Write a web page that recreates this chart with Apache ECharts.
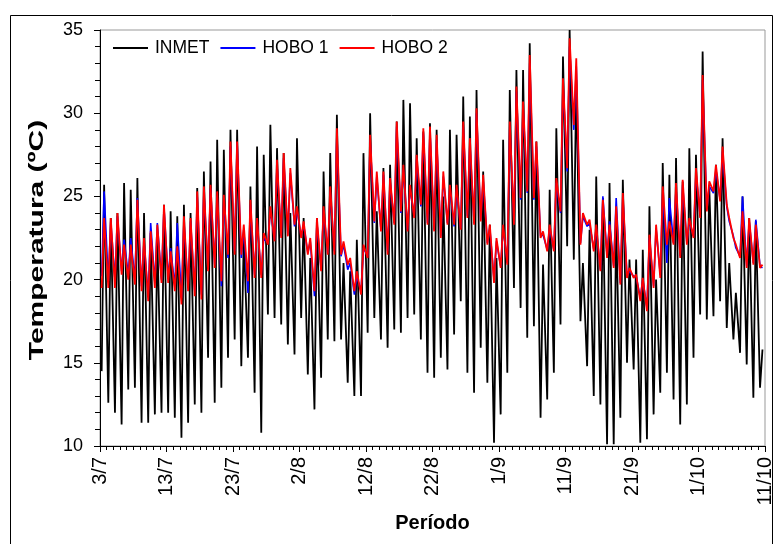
<!DOCTYPE html>
<html>
<head>
<meta charset="utf-8">
<script src="https://cdn.jsdelivr.net/npm/echarts@6/dist/echarts.min.js"></script>
<style>html,body{margin:0;padding:0;background:#fff}#c{width:775px;height:544px}</style>
</head>
<body>
<div id="c"></div>
<script>
// Tick labels (every 10 days from 3/7 to 11/10)
const tickLabels = ['3/7','13/7','23/7','2/8','12/8','22/8','1/9','11/9','21/9','1/10','11/10'];
// Day index 0 = 3/7. Daily minimum (morning) and maximum (afternoon), °C
const inmetMin = [14.5,12.6,12.0,11.3,13.4,13.5,11.4,11.4,11.9,12.0,
  12.0,11.7,10.5,11.4,12.5,12.0,15.3,12.6,13.5,15.3,
  16.4,14.8,15.3,13.2,10.8,17.9,17.7,17.3,16.1,15.5,
  17.7,14.3,12.2,14.1,16.4,16.3,16.4,13.8,13.0,13.0,
  16.8,17.7,16.4,15.9,17.0,16.8,17.7,17.9,16.4,14.4,
  14.1,15.3,14.6,16.7,18.7,14.4,13.2,15.9,13.8,10.2,
  11.9,14.4,19.5,18.3,16.5,17.2,11.7,12.8,14.4,17.3,
  22.0,21.2,17.5,14.8,13.0,12.5,10.1,10.1,11.7,15.0,
  14.6,10.2,10.4,11.9,13.2,14.4,12.8,11.3,12.5,15.3,
  17.9,17.6,17.8,18.7,17.1,16.4,15.6,14.9,12.9,13.5];
const inmetMax = [25.7,23.7,24.0,25.8,25.4,26.1,24.0,22.8,22.5,24.5,
  24.1,23.8,24.5,24.0,25.5,26.5,27.1,28.4,27.8,29.0,
  29.0,22.5,25.6,28.0,27.5,29.3,27.9,27.6,24.0,28.5,
  23.7,21.3,23.7,26.5,27.6,29.9,21.0,20.5,22.4,27.6,
  30.0,24.1,26.7,26.9,29.5,30.8,30.6,28.5,28.9,29.4,
  29.0,25.0,29.0,28.7,31.0,29.8,31.4,26.5,23.3,21.3,
  28.4,31.4,32.6,32.6,34.2,28.3,20.9,25.4,29.1,33.4,
  35.0,32.0,21.0,23.0,26.2,24.9,25.8,23.5,26.0,21.2,
  21.2,21.8,24.4,20.0,27.0,26.3,27.3,25.9,27.9,27.5,
  33.7,25.5,26.9,28.5,21.0,19.2,25.0,23.7,23.5,15.8];
const hobo1Min = [20.2,19.9,20.0,20.5,20.3,20.0,19.6,19.0,19.8,20.0,
  20.1,19.6,18.9,19.5,19.3,19.1,20.7,20.9,19.6,21.3,
  21.7,21.3,19.2,20.3,20.3,22.2,22.4,22.6,22.7,23.2,
  22.6,21.6,19.0,20.6,21.6,21.7,21.4,20.6,19.1,19.3,
  21.4,23.4,23.0,21.7,23.4,24.0,23.0,23.8,24.4,23.4,
  23.0,22.6,23.4,23.2,23.1,23.8,23.4,23.6,22.2,20.0,
  20.8,21.0,23.4,24.8,25.2,24.8,22.6,21.8,21.8,24.0,
  26.5,29.0,22.2,23.2,21.8,20.6,21.4,20.8,19.8,20.2,
  20.2,18.9,18.3,19.6,20.3,21.0,22.2,21.4,22.2,22.6,
  23.8,24.2,25.2,24.8,24.4,22.6,21.4,20.8,21.0,20.8];
const hobo1Max = [25.3,23.5,23.8,22.4,22.5,24.9,22.3,23.4,23.4,24.3,
  21.9,23.4,23.5,23.5,25.0,25.3,25.5,25.0,24.8,28.0,
  28.2,23.0,24.5,23.5,22.5,24.2,26.9,27.3,26.4,24.2,
  23.3,22.3,23.4,24.2,25.3,28.8,22.1,21.0,20.2,21.9,
  28.4,26.2,26.3,25.9,29.2,26.6,25.5,27.2,28.8,28.9,
  28.4,26.2,25.5,25.4,29.2,28.2,30.0,26.0,23.1,22.3,
  23.1,29.2,31.3,30.4,33.0,28.0,22.7,23.1,25.8,31.8,
  34.0,32.8,23.8,23.4,23.1,25.0,23.5,24.9,25.0,20.5,
  20.2,20.0,22.5,23.1,25.2,24.9,25.5,25.7,23.5,26.4,
  32.0,25.6,26.6,27.7,23.5,21.9,25.0,23.5,23.6,20.7];
const hobo2Min = [19.5,19.5,19.5,20.3,20.0,19.7,19.3,18.7,19.5,19.8,
  19.8,19.3,18.5,19.3,19.0,18.8,20.5,20.7,19.9,21.5,
  21.5,21.5,19.9,20.1,20.1,22.1,22.3,22.5,22.6,23.3,
  22.5,21.5,19.3,20.5,21.5,21.5,21.5,20.9,19.3,19.1,
  21.3,23.5,22.9,21.5,23.3,24.1,22.9,23.7,24.5,23.3,
  22.9,22.5,23.3,23.3,23.0,23.7,23.3,23.5,22.1,19.8,
  20.7,20.9,23.3,24.9,25.3,24.9,22.5,21.7,21.7,24.1,
  26.7,29.3,22.1,23.3,21.7,20.5,21.3,20.7,19.7,20.1,
  20.1,18.7,18.1,19.5,20.1,22.1,22.1,21.3,22.1,22.5,
  23.7,24.1,25.3,24.7,24.5,22.5,21.3,20.7,20.9,20.7];
const hobo2Max = [23.7,23.7,24.0,22.1,22.1,24.8,22.5,22.9,23.3,24.5,
  21.7,22.0,23.8,23.7,25.3,25.6,25.7,25.3,25.1,28.3,
  28.3,23.3,24.8,23.7,22.8,24.4,27.2,27.6,26.7,24.4,
  23.5,22.5,23.7,24.4,25.6,29.1,22.3,21.3,20.5,22.1,
  28.7,26.5,26.5,26.1,29.5,26.9,25.7,27.5,29.1,29.2,
  28.7,26.5,25.7,25.7,29.5,28.5,30.3,26.3,23.3,22.5,
  23.3,29.5,31.6,30.7,33.5,28.3,22.9,23.3,26.1,32.1,
  34.5,33.3,24.0,23.6,23.3,24.8,23.3,24.4,25.2,20.7,
  20.3,20.1,22.7,23.3,25.6,23.5,25.8,26.0,23.7,26.7,
  32.3,25.9,26.9,28.0,23.7,22.1,24.1,23.7,23.3,20.9];

function build(mins, maxs) {
  const out = [];
  for (let d = 0; d < mins.length; d++) {
    out.push([d + 0.25, mins[d]]);
    out.push([d + 0.62, maxs[d]]);
  }
  return out;
}

const FONT = 'Arial, "Liberation Sans", sans-serif';
const chart = echarts.init(document.getElementById('c'), null, {renderer: 'canvas'});
chart.setOption({
  animation: false,
  backgroundColor: '#fff',
  graphic: [{
    type: 'rect', left: 8, top: 13, silent: true,
    shape: {width: 762, height: 540},
    style: {fill: 'none', stroke: '#000', lineWidth: 1}
  }, {
    type: 'text', x: 37, y: 240, rotation: Math.PI / 2, scaleX: 1.5, silent: true,
    style: {text: 'Temperatura (ºC)', fill: '#000', align: 'center', verticalAlign: 'middle',
      font: 'bold 20px Arial, "Liberation Sans", sans-serif'}
  }],
  grid: {left: 100, right: 9, top: 30, bottom: 98, show: true, borderColor: '#999', borderWidth: 1},
  legend: {
    left: 113, top: 39, padding: 0,
    itemWidth: 35, itemHeight: 2, itemGap: 11, icon: 'rect',
    textStyle: {fontFamily: FONT, fontSize: 17.5, color: '#000', padding: [0,0,0,2]},
    data: ['INMET', 'HOBO 1', 'HOBO 2']
  },
  xAxis: {
    type: 'value', min: 0, max: 100, interval: 10,
    name: 'Período', nameLocation: 'middle', nameGap: 65,
    nameTextStyle: {fontFamily: FONT, fontSize: 20, fontWeight: 'bold', color: '#000'},
    axisLine: {lineStyle: {color: '#000', width: 1}},
    axisTick: {show: true, length: 6, lineStyle: {color: '#000'}},
    minorTick: {show: true, splitNumber: 10, length: 4, lineStyle: {color: '#000'}},
    splitLine: {show: false},
    axisLabel: {rotate: 90, margin: 11, fontFamily: FONT, fontSize: 20, color: '#000',
      formatter: v => tickLabels[Math.round(v / 10)] || ''}
  },
  yAxis: {
    type: 'value', min: 10, max: 35, interval: 5,
    axisLine: {show: true, lineStyle: {color: '#000', width: 1}},
    axisTick: {show: true, length: 6, lineStyle: {color: '#000'}},
    minorTick: {show: true, splitNumber: 5, length: 5, lineStyle: {color: '#000'}},
    splitLine: {show: false},
    axisLabel: {margin: 17, fontFamily: FONT, fontSize: 18, color: '#000'}
  },
  series: [
    {name: 'INMET', type: 'line', data: build(inmetMin, inmetMax), showSymbol: false, symbol: 'none',
      lineStyle: {color: '#000', width: 1.8}, itemStyle: {color: '#000'}, z: 2},
    {name: 'HOBO 1', type: 'line', data: build(hobo1Min, hobo1Max), showSymbol: false, symbol: 'none',
      lineStyle: {color: '#0000ff', width: 1.6}, itemStyle: {color: '#0000ff'}, z: 3},
    {name: 'HOBO 2', type: 'line', data: build(hobo2Min, hobo2Max), showSymbol: false, symbol: 'none',
      lineStyle: {color: '#ff0000', width: 1.8}, itemStyle: {color: '#ff0000'}, z: 4}
  ]
});
</script>
</body>
</html>
